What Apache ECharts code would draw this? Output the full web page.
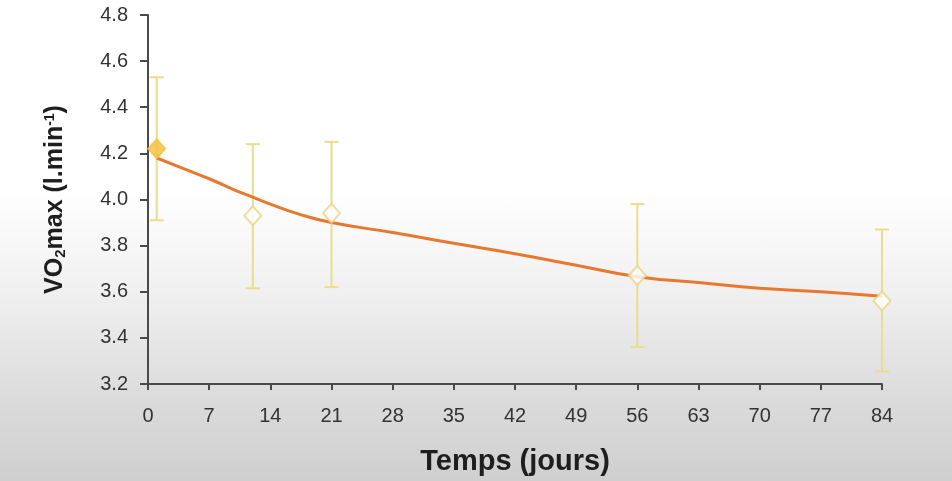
<!DOCTYPE html>
<html>
<head>
<meta charset="utf-8">
<script src="https://cdn.jsdelivr.net/npm/echarts@6/dist/echarts.min.js"></script>
<style>
html,body{margin:0;padding:0;width:952px;height:481px;overflow:hidden;
background:linear-gradient(to bottom,#ffffff 0%,#ffffff 40%,#efefef 62%,#dcdcdc 82%,#cfcfcf 100%);}
#c{width:952px;height:481px;}
</style>
</head>
<body>
<div id="c"></div>
<script>
const days = [1, 12, 21, 56, 84];
const means = [4.22, 3.93, 3.94, 3.67, 3.56];
const errHigh = [4.53, 4.24, 4.25, 3.98, 3.87];
const errLow = [3.91, 3.615, 3.62, 3.36, 3.255];
const fitDays = [1, 4, 7, 10, 12, 14, 17, 21, 28, 35, 42, 49, 56, 63, 70, 77, 84];
const fitValues = [4.18, 4.135, 4.09, 4.04, 4.01, 3.98, 3.94, 3.90, 3.857, 3.81, 3.765, 3.715, 3.665, 3.64, 3.615, 3.6, 3.58];
const xTicks = [0, 7, 14, 21, 28, 35, 42, 49, 56, 63, 70, 77, 84];
const yTicks = [3.2, 3.4, 3.6, 3.8, 4.0, 4.2, 4.4, 4.6, 4.8];

const chart = echarts.init(document.getElementById('c'), null, {renderer: 'canvas'});
const font = '"Liberation Sans", Arial, sans-serif';
const axisColor = '#4a4a4a';

const errData = days.map((d, i) => [d, errLow[i], errHigh[i]]);
const fitData = fitDays.map((d, i) => [d, fitValues[i]]);
const meanData = days.map((d, i) => ({
  value: [d, means[i]],
  itemStyle: i === 0 ? {color: '#F6BF3C', borderColor: '#F6BF3C'} : {color: '#ffffff', borderColor: '#E6D48A'}
}));

chart.setOption({
  animation: false,
  grid: {left: 148, right: 70, top: 15, bottom: 96},
  xAxis: {
    type: 'value', min: 0, max: 84, interval: 7,
    axisLine: {show: true, lineStyle: {color: axisColor, width: 2}},
    axisTick: {show: true, length: 6, lineStyle: {color: axisColor, width: 2}},
    splitLine: {show: false},
    axisLabel: {color: '#333', fontSize: 20, fontFamily: font, margin: 22,
      formatter: v => xTicks.includes(v) ? String(v) : ''},
    name: 'Temps (jours)', nameLocation: 'middle', nameGap: 63,
    nameTextStyle: {color: '#1e1e1e', fontSize: 29, fontWeight: 'bold', fontFamily: font}
  },
  yAxis: {
    type: 'value', min: 3.2, max: 4.8, interval: 0.2,
    axisLine: {show: true, lineStyle: {color: axisColor, width: 2}},
    axisTick: {show: true, length: 8, lineStyle: {color: axisColor, width: 2}},
    splitLine: {show: false},
    axisLabel: {color: '#333', fontSize: 20, fontFamily: font, margin: 20,
      formatter: v => yTicks.some(t => Math.abs(t - v) < 1e-6) ? v.toFixed(1) : ''},
    name: '{b|VO}{s|2}{b|max (l.min}{p|-1}{b|)}', nameLocation: 'middle', nameGap: 80,
    nameRotate: 90,
    nameTextStyle: {
      rich: {
        b: {fontSize: 25, fontWeight: 'bold', color: '#1e1e1e', fontFamily: font},
        s: {fontSize: 15, fontWeight: 'bold', color: '#1e1e1e', fontFamily: font, verticalAlign: 'bottom'},
        p: {fontSize: 14, fontWeight: 'bold', color: '#1e1e1e', fontFamily: font, verticalAlign: 'top'}
      }
    }
  },
  series: [
    {
      type: 'custom',
      data: errData,
      z: 2,
      renderItem: function (params, api) {
        const x = api.value(0);
        const lo = api.coord([x, api.value(1)]);
        const hi = api.coord([x, api.value(2)]);
        const w = 7;
        const style = {stroke: '#E9DD8E', lineWidth: 2};
        return {
          type: 'group',
          children: [
            {type: 'line', shape: {x1: hi[0], y1: hi[1], x2: lo[0], y2: lo[1]}, style: style},
            {type: 'line', shape: {x1: hi[0] - w, y1: hi[1], x2: hi[0] + w, y2: hi[1]}, style: style},
            {type: 'line', shape: {x1: lo[0] - w, y1: lo[1], x2: lo[0] + w, y2: lo[1]}, style: style}
          ]
        };
      }
    },
    {
      type: 'line',
      data: fitData,
      smooth: true,
      showSymbol: false,
      z: 3,
      lineStyle: {color: '#E8782E', width: 3}
    },
    {
      type: 'scatter',
      data: meanData,
      symbol: 'diamond',
      symbolSize: [17, 19],
      z: 4,
      itemStyle: {borderWidth: 2}
    }
  ]
});
</script>
</body>
</html>
